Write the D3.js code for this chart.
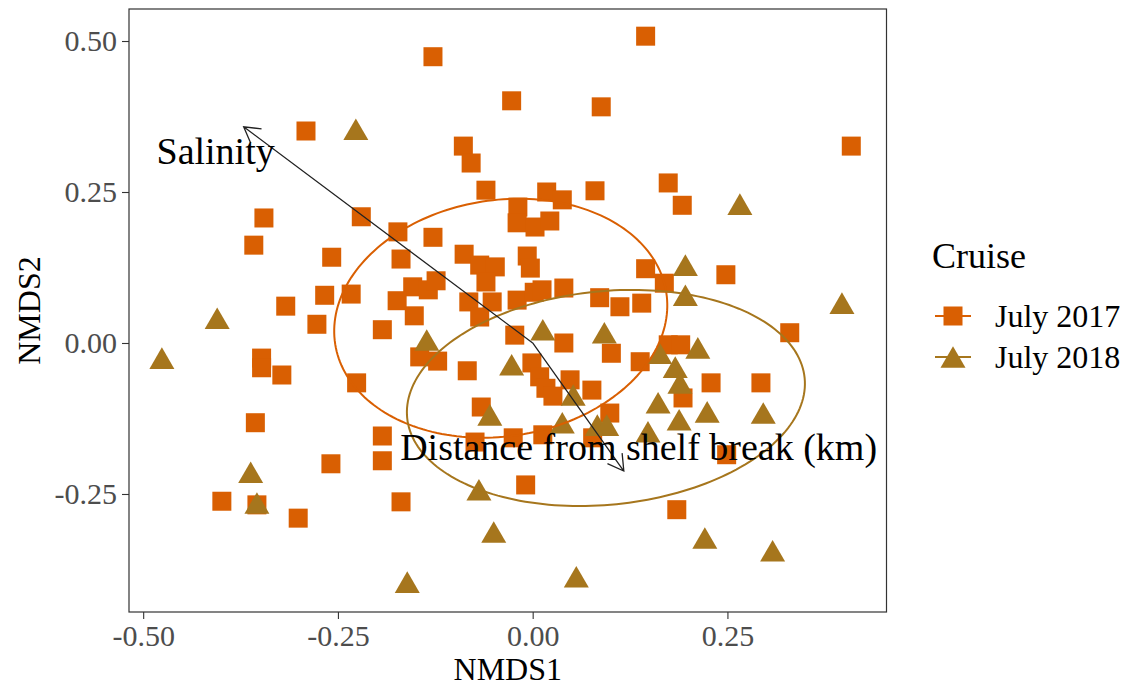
<!DOCTYPE html>
<html>
<head>
<meta charset="utf-8">
<script src="https://cdn.jsdelivr.net/npm/d3@7"></script>
<style>
  html, body { margin: 0; padding: 0; background: #fff; }
  svg { display: block; font-family: "Liberation Serif", "Times New Roman", serif; }
</style>
</head>
<body>
<svg id="chart" width="1128" height="688"></svg>
<script>
// groups and colours
const cruises = ["July 2017", "July 2018"];
const cruiseColors = ["#D95F02", "#A6761D"];

// July 2017 site scores (squares)
const nmds1_2017 = [0.145, -0.128, -0.027, 0.088, -0.291, 0.409, -0.089, -0.079, 0.174, -0.060,
  0.080, 0.192, 0.018, 0.038, -0.345, -0.220, -0.358, -0.173, -0.128, -0.019,
  -0.020, 0.003, 0.022, -0.258, -0.169, -0.088, -0.068, -0.048, -0.007, -0.003,
  0.145, 0.169, 0.248, -0.267, -0.233, -0.317, -0.154, -0.134, -0.124, -0.060,
  -0.174, -0.082, -0.052, -0.020, 0.002, 0.012, 0.040, 0.086, 0.112, 0.140,
  -0.277, -0.193, -0.152, -0.068, -0.023, 0.040, 0.101, 0.174, 0.190, 0.330,
  -0.348, -0.348, -0.322, -0.226, -0.145, -0.122, -0.084, -0.001, 0.009, 0.017,
  0.026, 0.048, 0.076, 0.138, 0.229, 0.293, 0.193, -0.356, -0.066, 0.099,
  -0.193, -0.193, -0.074, -0.025, 0.013, 0.077, -0.259, 0.249, -0.009, -0.399,
  -0.354, -0.169, -0.301, 0.185];
const nmds2_2017 = [0.508, 0.474, 0.401, 0.391, 0.351, 0.326, 0.326, 0.298, 0.265, 0.253,
  0.252, 0.228, 0.250, 0.237, 0.207, 0.209, 0.162, 0.184, 0.175, 0.225,
  0.199, 0.192, 0.202, 0.142, 0.139, 0.147, 0.129, 0.126, 0.144, 0.124,
  0.123, 0.099, 0.113, 0.079, 0.081, 0.061, 0.093, 0.088, 0.103, 0.101,
  0.070, 0.068, 0.068, 0.071, 0.084, 0.088, 0.091, 0.075, 0.060, 0.066,
  0.031, 0.022, 0.045, 0.043, 0.013, 0.000, -0.017, -0.003, -0.003, 0.017,
  -0.025, -0.041, -0.053, -0.066, -0.023, -0.030, -0.046, -0.033, -0.056, -0.075,
  -0.088, -0.061, -0.078, -0.031, -0.066, -0.066, -0.091, -0.132, -0.106, -0.116,
  -0.154, -0.195, -0.164, -0.157, -0.152, -0.157, -0.200, -0.185, -0.235, -0.262,
  -0.268, -0.263, -0.290, -0.276];

// July 2018 site scores (triangles)
const nmds1_2018 = [-0.227, 0.266, 0.196, 0.196, 0.397, 0.013, 0.092, 0.163, 0.212, 0.183,
  0.189, 0.052, 0.161, 0.188, 0.224, 0.038, 0.083, 0.095, 0.148, 0.296,
  0.221, 0.308, 0.056, -0.161, -0.050, -0.069, -0.055, -0.027, -0.136, -0.405,
  -0.476, -0.362, -0.354];
const nmds2_2018 = [0.354, 0.230, 0.129, 0.079, 0.066, 0.022, 0.017, -0.017, -0.008, -0.040,
  -0.066, -0.086, -0.099, -0.127, -0.114, -0.132, -0.136, -0.136, -0.147, -0.116,
  -0.323, -0.344, -0.387, -0.396, -0.313, -0.243, -0.119, -0.036, 0.005, 0.041,
  -0.025, -0.214, -0.265];

// 95% ellipses: centre and two conjugate semi-axis vectors (NMDS units)
const ellipseCx = [-0.041, 0.094];
const ellipseCy = [0.041, -0.091];
const ellipseAx = [0.2125, 0.2551];
const ellipseAy = [0.0429, 0.0332];
const ellipseBx = [0.0235, 0.0138];
const ellipseBy = [-0.1932, -0.1758];

// fitted environmental vectors
const vectorNames = ["Salinity", "Distance from shelf break (km)"];
const vectorX = [-0.371, 0.117];
const vectorY = [0.358, -0.212];
const labelX = [-0.407, 0.136];
const labelY = [0.318, -0.172];

const xTicks = [-0.50, -0.25, 0.00, 0.25];
const yTicks = [-0.25, 0.00, 0.25, 0.50];

const margin = { top: 9, left: 129 };
const panelW = 757.5, panelH = 603;

const svg = d3.select("#chart");
const g = svg.append("g").attr("transform", `translate(${margin.left},${margin.top})`);

const x = d3.scaleLinear().domain([-0.5182, 0.4542]).range([0, panelW]);
const y = d3.scaleLinear().domain([-0.4454, 0.553]).range([panelH, 0]);

const fmt = v => v.toFixed(2);

// axes
const xAxis = g.append("g")
  .attr("transform", `translate(0,${panelH})`)
  .call(d3.axisBottom(x).tickValues(xTicks).tickFormat(fmt).tickSize(7).tickPadding(6));
const yAxis = g.append("g")
  .call(d3.axisLeft(y).tickValues(yTicks).tickFormat(fmt).tickSize(7).tickPadding(5));

[xAxis, yAxis].forEach(a => {
  a.select(".domain").remove();
  a.selectAll(".tick line").attr("stroke", "#333333").attr("stroke-width", 1.1);
  a.selectAll(".tick text")
    .attr("fill", "#4D4D4D")
    .style("font-family", "Liberation Serif, serif")
    .style("font-size", "30px");
});

// points
const sq = 19;
const triW = 25, triH = 21.6;
const pts2017 = nmds1_2017.map((v, i) => ({ x: v, y: nmds2_2017[i] }));
const pts2018 = nmds1_2018.map((v, i) => ({ x: v, y: nmds2_2018[i] }));

g.append("g").selectAll("rect")
  .data(pts2017)
  .join("rect")
  .attr("x", d => x(d.x) - sq / 2)
  .attr("y", d => y(d.y) - sq / 2)
  .attr("width", sq)
  .attr("height", sq)
  .attr("fill", cruiseColors[0]);

const triPath = `M0,${-triH / 2}L${triW / 2},${triH / 2}L${-triW / 2},${triH / 2}Z`;
g.append("g").selectAll("path")
  .data(pts2018)
  .join("path")
  .attr("transform", d => `translate(${x(d.x)},${y(d.y)})`)
  .attr("d", triPath)
  .attr("fill", cruiseColors[1]);

// ellipses
const line = d3.line().x(d => x(d[0])).y(d => y(d[1]));
cruises.forEach((c, i) => {
  const pts = d3.range(0, 201).map(k => {
    const t = k / 200 * 2 * Math.PI;
    return [ellipseCx[i] + ellipseAx[i] * Math.cos(t) + ellipseBx[i] * Math.sin(t),
            ellipseCy[i] + ellipseAy[i] * Math.cos(t) + ellipseBy[i] * Math.sin(t)];
  });
  g.append("path")
    .attr("d", line(pts))
    .attr("fill", "none")
    .attr("stroke", cruiseColors[i])
    .attr("stroke-width", 2);
});

// vectors with open arrowheads
const headLen = 18, headAng = Math.PI / 6;
vectorNames.forEach((name, i) => {
  const x0 = x(0), y0 = y(0), x1 = x(vectorX[i]), y1 = y(vectorY[i]);
  const a = Math.atan2(y1 - y0, x1 - x0);
  const hx1 = x1 - headLen * Math.cos(a - headAng), hy1 = y1 - headLen * Math.sin(a - headAng);
  const hx2 = x1 - headLen * Math.cos(a + headAng), hy2 = y1 - headLen * Math.sin(a + headAng);
  g.append("path")
    .attr("d", `M${x0},${y0}L${x1},${y1}M${hx1},${hy1}L${x1},${y1}L${hx2},${hy2}`)
    .attr("fill", "none")
    .attr("stroke", "#222")
    .attr("stroke-width", 1.3);
  g.append("text")
    .attr("x", x(labelX[i]))
    .attr("y", y(labelY[i]))
    .attr("dy", "0.35em")
    .attr("text-anchor", "middle")
    .style("font-size", "38px")
    .attr("fill", "#000")
    .text(name);
});

// panel border
g.append("rect")
  .attr("width", panelW).attr("height", panelH)
  .attr("fill", "none").attr("stroke", "#333333").attr("stroke-width", 1.2);

// axis titles
svg.append("text")
  .attr("x", margin.left + panelW / 2)
  .attr("y", 680)
  .attr("text-anchor", "middle")
  .style("font-size", "32px")
  .text("NMDS1");
svg.append("text")
  .attr("transform", `translate(40,${margin.top + panelH / 2}) rotate(-90)`)
  .attr("text-anchor", "middle")
  .style("font-size", "32px")
  .text("NMDS2");

// legend
const legend = svg.append("g");
legend.append("text")
  .attr("x", 932).attr("y", 268)
  .style("font-size", "36px")
  .text("Cruise");
const keyY = [316, 357];
cruises.forEach((c, i) => {
  const k = legend.append("g").attr("transform", `translate(953,${keyY[i]})`);
  k.append("line").attr("x1", -18).attr("x2", 18)
    .attr("stroke", cruiseColors[i]).attr("stroke-width", 2);
  if (i === 0) {
    k.append("rect").attr("x", -sq / 2).attr("y", -sq / 2)
      .attr("width", sq).attr("height", sq).attr("fill", cruiseColors[i]);
  } else {
    k.append("path").attr("d", triPath).attr("fill", cruiseColors[i]);
  }
  legend.append("text")
    .attr("x", 995).attr("y", keyY[i])
    .attr("dy", "0.35em")
    .style("font-size", "32px")
    .text(c);
});
</script>
</body>
</html>
